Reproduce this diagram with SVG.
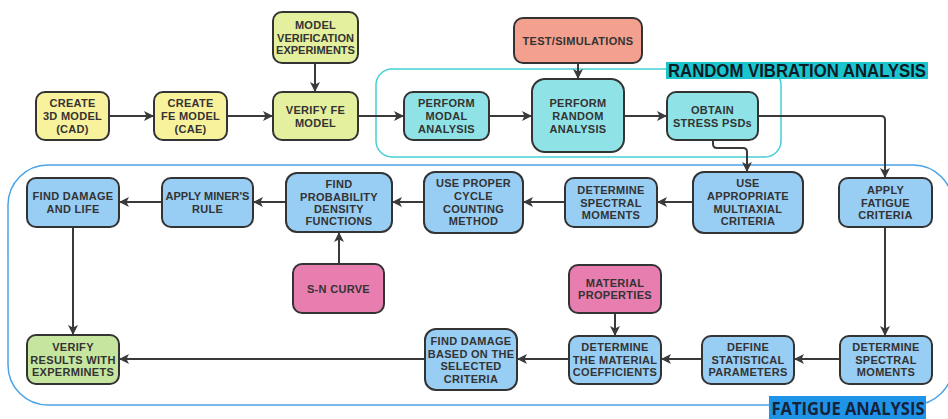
<svg xmlns="http://www.w3.org/2000/svg" width="948" height="419" viewBox="0 0 948 419">
<style>
.n{stroke:#333;stroke-width:2}
.y{fill:#f9f29c}
.g{fill:#e4f09e}
.s{fill:#f4a08f}
.c{fill:#8fe3e7}
.b{fill:#98cdf4}
.p{fill:#e87db0}
.v{fill:#c6e6a0}
text{font-family:"Liberation Sans",Arial,sans-serif;font-weight:bold;font-size:11px;fill:#333;text-anchor:middle;letter-spacing:0.3px}
.t{letter-spacing:0}
.e{fill:none;stroke:#3a3a3a;stroke-width:2;marker-end:url(#ah)}
</style>
<defs>
<marker id="ah" markerUnits="userSpaceOnUse" markerWidth="10" markerHeight="10" refX="10" refY="5" orient="auto">
<path d="M0,0 L10,5 L0,10 L2.5,5 z" fill="#3a3a3a"/>
</marker>
</defs>
<rect width="948" height="419" fill="#fff"/>
<g id="containers">
<rect x="376" y="69" width="405" height="88" rx="16" fill="none" stroke="#45d0d6" stroke-width="1.5"/>
<rect x="8" y="165" width="945" height="240" rx="40" fill="none" stroke="#4aa3e6" stroke-width="1.5"/>
</g>
<g id="connectors">
<path class="e" d="M109,116H154"/>
<path class="e" d="M227,116H273"/>
<path class="e" d="M315,63V92"/>
<path class="e" d="M358,116H404"/>
<path class="e" d="M489,116H532"/>
<path class="e" d="M578,63V79"/>
<path class="e" d="M624,116H667"/>
<path class="e" d="M758,116H881Q885,116 885,120V178"/>
<path class="e" d="M713,140V144Q713,148 717,148H743Q747,148 747,152V172"/>
<path class="e" d="M693,202H657"/>
<path class="e" d="M565,202H523"/>
<path class="e" d="M424,202H392"/>
<path class="e" d="M286,202H253"/>
<path class="e" d="M162,202H119"/>
<path class="e" d="M339,264V232"/>
<path class="e" d="M73,227V335"/>
<path class="e" d="M885,227V336"/>
<path class="e" d="M840,359H794"/>
<path class="e" d="M702,359H661"/>
<path class="e" d="M615,313V336"/>
<path class="e" d="M569,359H517"/>
<path class="e" d="M425,359H119"/>
</g>
<g id="n3d"><rect class="n y" x="36" y="92" width="73" height="48" rx="9"/><text x="72.5" y="107">CREATE</text><text x="72.5" y="120">3D MODEL</text><text x="72.5" y="133">(CAD)</text></g>
<g id="nfe"><rect class="n y" x="154" y="92" width="73" height="48" rx="9"/><text x="190.5" y="107">CREATE</text><text x="190.5" y="120">FE MODEL</text><text x="190.5" y="133">(CAE)</text></g>
<g id="nmve"><rect class="n g" x="273" y="12" width="85" height="51" rx="9"/><text x="315.5" y="29">MODEL</text><text x="315.5" y="41.5" class="t">VERIFICATION</text><text x="315.5" y="54" class="t">EXPERIMENTS</text></g>
<g id="nverify"><rect class="n g" x="273" y="92" width="85" height="48" rx="9"/><text x="315.5" y="114">VERIFY FE</text><text x="315.5" y="127">MODEL</text></g>
<g id="ntest"><rect class="n s" x="514" y="18" width="128" height="45" rx="9"/><text x="578" y="44.5">TEST/SIMULATIONS</text></g>
<g id="nmodal"><rect class="n c" x="404" y="92" width="85" height="48" rx="9"/><text x="446.5" y="107">PERFORM</text><text x="446.5" y="120">MODAL</text><text x="446.5" y="132.5">ANALYSIS</text></g>
<g id="nrandom"><rect class="n c" x="532" y="79" width="92" height="73" rx="13"/><text x="578" y="107">PERFORM</text><text x="578" y="120">RANDOM</text><text x="578" y="132.5">ANALYSIS</text></g>
<g id="nobtain"><rect class="n c" x="667" y="92" width="91" height="48" rx="9"/><text x="712.5" y="114">OBTAIN</text><text x="712.5" y="127">STRESS PSDs</text></g>
<g id="nuseapp"><rect class="n b" x="693" y="172" width="110" height="61" rx="11"/><text x="748" y="187">USE</text><text x="748" y="200">APPROPRIATE</text><text x="748" y="213">MULTIAXIAL</text><text x="748" y="225">CRITERIA</text></g>
<g id="napply"><rect class="n b" x="839" y="178" width="93" height="49" rx="9"/><text x="885.5" y="194">APPLY</text><text x="885.5" y="207">FATIGUE</text><text x="885.5" y="219">CRITERIA</text></g>
<g id="ndetspec1"><rect class="n b" x="565" y="178" width="92" height="49" rx="9"/><text x="611" y="194">DETERMINE</text><text x="611" y="207">SPECTRAL</text><text x="611" y="219">MOMENTS</text></g>
<g id="nuseproper"><rect class="n b" x="424" y="172" width="99" height="61" rx="11"/><text x="473.5" y="187">USE PROPER</text><text x="473.5" y="200">CYCLE</text><text x="473.5" y="213">COUNTING</text><text x="473.5" y="225">METHOD</text></g>
<g id="nfindprob"><rect class="n b" x="286" y="173" width="106" height="59" rx="11"/><text x="339" y="188">FIND</text><text x="339" y="200.5">PROBABILITY</text><text x="339" y="213">DENSITY</text><text x="339" y="225">FUNCTIONS</text></g>
<g id="nminer"><rect class="n b" x="162" y="178" width="91" height="49" rx="9"/><text x="207.5" y="200" class="t">APPLY MINER'S</text><text x="207.5" y="213">RULE</text></g>
<g id="nfinddmg"><rect class="n b" x="27" y="178" width="92" height="49" rx="9"/><text x="73" y="200">FIND DAMAGE</text><text x="73" y="213">AND LIFE</text></g>
<g id="nsn"><rect class="n p" x="293" y="264" width="91" height="49" rx="9"/><text x="338.5" y="292.5">S-N CURVE</text></g>
<g id="nmat"><rect class="n p" x="569" y="265" width="92" height="48" rx="9"/><text x="615" y="287">MATERIAL</text><text x="615" y="299">PROPERTIES</text></g>
<g id="nverres"><rect class="n v" x="27" y="335" width="92" height="49" rx="9"/><text x="73" y="351">VERIFY</text><text x="73" y="363.5">RESULTS WITH</text><text x="73" y="376">EXPERMINETS</text></g>
<g id="nfdbased"><rect class="n b" x="425" y="329" width="92" height="61" rx="11"/><text x="471" y="345">FIND DAMAGE</text><text x="471" y="357.5">BASED ON THE</text><text x="471" y="370">SELECTED</text><text x="471" y="382.5">CRITERIA</text></g>
<g id="ndetmat"><rect class="n b" x="569" y="336" width="92" height="48" rx="9"/><text x="615" y="351">DETERMINE</text><text x="615" y="363.5">THE MATERIAL</text><text x="615" y="376">COEFFICIENTS</text></g>
<g id="ndefine"><rect class="n b" x="702" y="336" width="92" height="48" rx="9"/><text x="748" y="351">DEFINE</text><text x="748" y="363.5">STATISTICAL</text><text x="748" y="376">PARAMETERS</text></g>
<g id="ndetspec2"><rect class="n b" x="840" y="336" width="92" height="48" rx="9"/><text x="886" y="351">DETERMINE</text><text x="886" y="363.5">SPECTRAL</text><text x="886" y="376">MOMENTS</text></g>
<g id="labels">
<rect x="666" y="62" width="262" height="17" fill="#1ac5ce"/>
<text x="797" y="77" style="font-size:17.5px;fill:#0b1c26;letter-spacing:0" textLength="258" lengthAdjust="spacingAndGlyphs">RANDOM VIBRATION ANALYSIS</text>
<rect x="769" y="396" width="157" height="23" fill="#1f93e8"/>
<text x="848" y="415" style="font-family:'Open Sans','Liberation Sans',sans-serif;font-size:17.5px;fill:#15223a;letter-spacing:0" textLength="153" lengthAdjust="spacingAndGlyphs">FATIGUE ANALYSIS</text>
</g>
</svg>
